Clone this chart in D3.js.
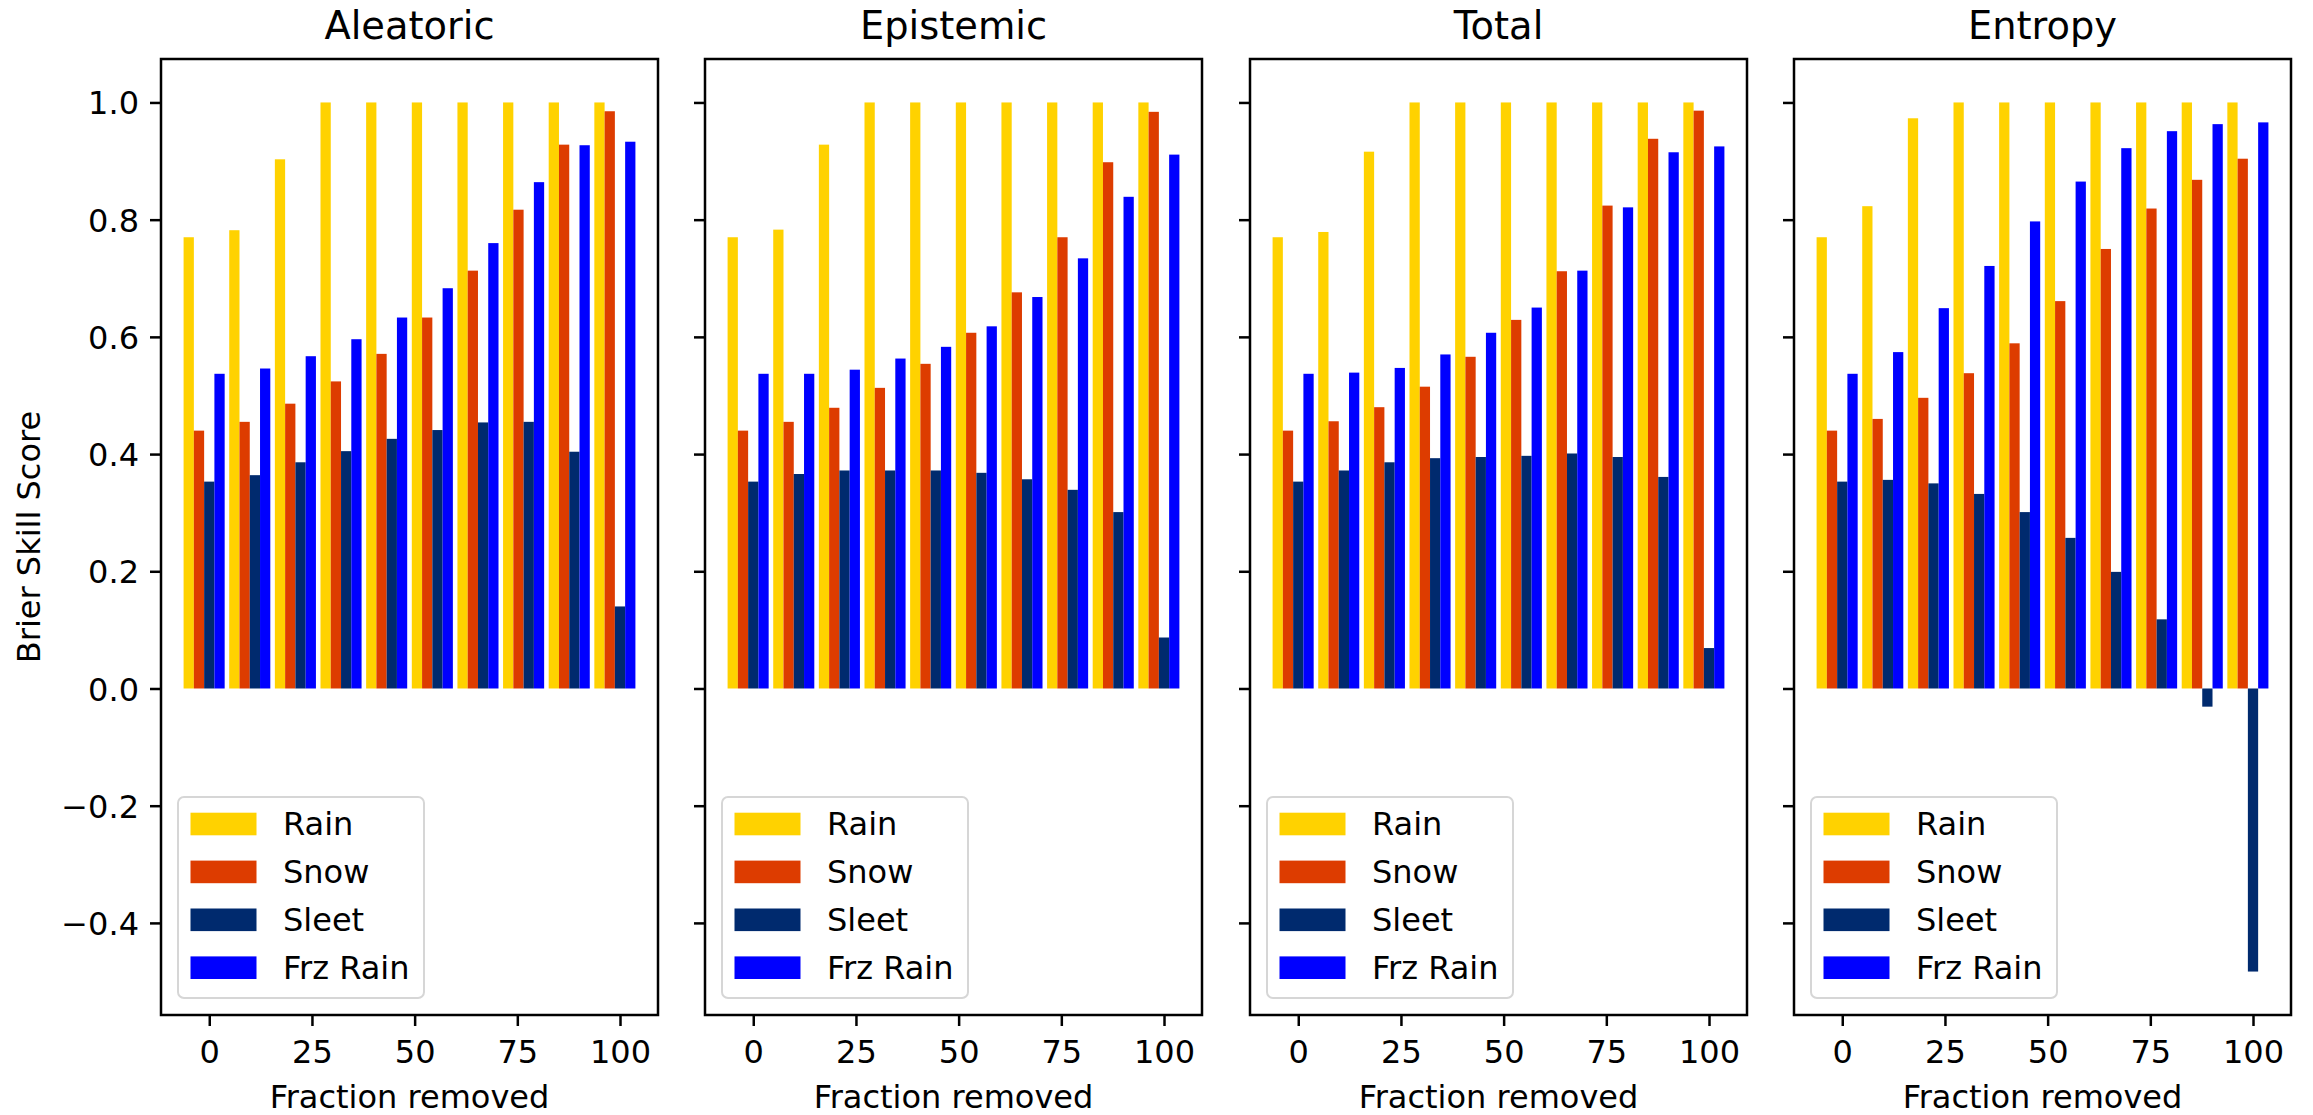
<!DOCTYPE html>
<html>
<head>
<meta charset="utf-8">
<script src="https://cdn.jsdelivr.net/npm/d3@7"></script>
<style>
  html, body { margin: 0; padding: 0; background: #fff; }
  svg { display: block; }
  text { font-family: "DejaVu Sans", sans-serif; fill: #000; }
</style>
</head>
<body>
<svg id="chart" width="2313" height="1115"></svg>
<script>
// ---------------- data ----------------
const categories = ["Rain", "Snow", "Sleet", "Frz Rain"];
const panelTitles = ["Aleatoric", "Epistemic", "Total", "Entropy"];
const fractions = [0, 11.11, 22.22, 33.33, 44.44, 55.56, 66.67, 77.78, 88.89, 100];
const xTickValues = [0, 25, 50, 75, 100];
const yTickValues = [-0.4, -0.2, 0.0, 0.2, 0.4, 0.6, 0.8, 1.0];

const aleatoricRain  = [0.770, 0.782, 0.903, 1.0, 1.0, 1.0, 1.0, 1.0, 1.0, 1.0];
const aleatoricSnow  = [0.440, 0.455, 0.486, 0.524, 0.571, 0.633, 0.713, 0.817, 0.928, 0.985];
const aleatoricSleet = [0.353, 0.364, 0.386, 0.405, 0.426, 0.441, 0.454, 0.455, 0.404, 0.140];
const aleatoricFrz   = [0.537, 0.546, 0.567, 0.596, 0.633, 0.683, 0.760, 0.864, 0.927, 0.933];

const epistemicRain  = [0.770, 0.783, 0.928, 1.0, 1.0, 1.0, 1.0, 1.0, 1.0, 1.0];
const epistemicSnow  = [0.440, 0.455, 0.479, 0.513, 0.554, 0.607, 0.676, 0.770, 0.898, 0.984];
const epistemicSleet = [0.353, 0.366, 0.372, 0.372, 0.372, 0.368, 0.357, 0.339, 0.301, 0.087];
const epistemicFrz   = [0.537, 0.537, 0.544, 0.563, 0.583, 0.618, 0.668, 0.734, 0.839, 0.911];

const totalRain  = [0.770, 0.779, 0.916, 1.0, 1.0, 1.0, 1.0, 1.0, 1.0, 1.0];
const totalSnow  = [0.440, 0.456, 0.480, 0.515, 0.566, 0.629, 0.712, 0.824, 0.938, 0.986];
const totalSleet = [0.353, 0.372, 0.386, 0.393, 0.395, 0.397, 0.401, 0.395, 0.361, 0.069];
const totalFrz   = [0.537, 0.539, 0.547, 0.570, 0.607, 0.650, 0.713, 0.821, 0.915, 0.925];

const entropyRain  = [0.770, 0.823, 0.973, 1.0, 1.0, 1.0, 1.0, 1.0, 1.0, 1.0];
const entropySnow  = [0.440, 0.460, 0.496, 0.538, 0.589, 0.661, 0.750, 0.819, 0.868, 0.904];
const entropySleet = [0.353, 0.356, 0.350, 0.332, 0.301, 0.257, 0.199, 0.118, -0.031, -0.483];
const entropyFrz   = [0.537, 0.574, 0.649, 0.721, 0.797, 0.865, 0.922, 0.951, 0.963, 0.966];

const panelSeries = [
  [aleatoricRain, aleatoricSnow, aleatoricSleet, aleatoricFrz],
  [epistemicRain, epistemicSnow, epistemicSleet, epistemicFrz],
  [totalRain, totalSnow, totalSleet, totalFrz],
  [entropyRain, entropySnow, entropySleet, entropyFrz]
];

// ---------------- styling / layout ----------------
const colors = ["#FFD200", "#DD3C00", "#002A6E", "#0000FF"];
const barWidth = 2.5;            // in data units
const panelLefts = [161, 705, 1250, 1794];
const panelWidth = 497;
const plotTop = 59, plotBottom = 1015;
const fontSize = 32;
const tickLen = 11;

const svg = d3.select("#chart");

// shared y domain (matplotlib-like 5% margins)
const allVals = panelSeries.flat(2);
const yMin = Math.min(0, d3.min(allVals)), yMax = d3.max(allVals);
const yPad = (yMax - yMin) * 0.05;
const y = d3.scaleLinear().domain([yMin - yPad, yMax + yPad]).range([plotBottom, plotTop]);

// x domain from bar extent with 5% margins
const xLo = d3.min(fractions) - 2.5 * barWidth + barWidth / 2 - barWidth / 2; // left edge of first bar
const xHi = d3.max(fractions) + 1.5 * barWidth;
const xPad = (xHi - xLo) * 0.05;

panelSeries.forEach((series, p) => {
  const left = panelLefts[p];
  const x = d3.scaleLinear().domain([xLo - xPad, xHi + xPad]).range([left, left + panelWidth]);
  const g = svg.append("g");

  // bars
  series.forEach((vals, i) => {
    g.append("g").selectAll("rect")
      .data(vals.map((v, k) => ({ v, f: fractions[k] })))
      .join("rect")
      .attr("x", d => x(d.f + (i - 2.5) * barWidth))
      .attr("width", d => x(d.f + (i - 1.5) * barWidth) - x(d.f + (i - 2.5) * barWidth))
      .attr("y", d => y(Math.max(0, d.v)))
      .attr("height", d => Math.abs(y(d.v) - y(0)))
      .attr("fill", colors[i]);
  });

  // x axis
  const xAxis = g.append("g")
    .attr("transform", `translate(0,${plotBottom})`)
    .call(d3.axisBottom(x).tickValues(xTickValues).tickFormat(d3.format("d"))
      .tickSize(tickLen).tickPadding(14));
  xAxis.select(".domain").remove();
  xAxis.selectAll(".tick line").attr("stroke", "#000").attr("stroke-width", 2.5);
  xAxis.selectAll(".tick text").style("font-size", fontSize + "px")
    .style("font-family", "DejaVu Sans").attr("fill", "#000");

  // y axis
  const yAxis = g.append("g")
    .attr("transform", `translate(${left},0)`)
    .call(d3.axisLeft(y).tickValues(yTickValues)
      .tickFormat(p === 0 ? (d => d3.format(".1f")(d).replace("-", "\u2212")) : (() => ""))
      .tickSize(tickLen).tickPadding(11));
  yAxis.select(".domain").remove();
  yAxis.selectAll(".tick line").attr("stroke", "#000").attr("stroke-width", 2.5);
  yAxis.selectAll(".tick text").style("font-size", fontSize + "px")
    .style("font-family", "DejaVu Sans").attr("fill", "#000").attr("dy", "0.36em");

  // frame
  g.append("rect")
    .attr("x", left).attr("y", plotTop)
    .attr("width", panelWidth).attr("height", plotBottom - plotTop)
    .attr("fill", "none").attr("stroke", "#000").attr("stroke-width", 2.5);

  // title
  g.append("text")
    .attr("x", left + panelWidth / 2).attr("y", 39)
    .attr("text-anchor", "middle")
    .style("font-size", (fontSize * 1.2) + "px")
    .text(panelTitles[p]);

  // x label
  g.append("text")
    .attr("x", left + panelWidth / 2).attr("y", 1108)
    .attr("text-anchor", "middle")
    .style("font-size", fontSize + "px")
    .text("Fraction removed");

  // legend
  const lgX = left + 17, lgW = 246, lgH = 201, lgY = plotBottom - 17 - lgH;
  const lg = g.append("g").attr("transform", `translate(${lgX},${lgY})`);
  lg.append("rect").attr("width", lgW).attr("height", lgH)
    .attr("rx", 6).attr("ry", 6)
    .attr("fill", "#fff").attr("fill-opacity", 0.8)
    .attr("stroke", "#d6d6d6").attr("stroke-width", 2);
  categories.forEach((c, i) => {
    const ry = 15.7 + i * 47.9;
    lg.append("rect").attr("x", 12.5).attr("y", ry).attr("width", 66).attr("height", 22.6)
      .attr("fill", colors[i]);
    lg.append("text").attr("x", 105).attr("y", ry + 22.6)
      .style("font-size", fontSize + "px").text(c);
  });
});

// y label
svg.append("text")
  .attr("transform", `translate(40,${(plotTop + plotBottom) / 2}) rotate(-90)`)
  .attr("text-anchor", "middle")
  .style("font-size", fontSize + "px")
  .text("Brier Skill Score");
</script>
</body>
</html>
